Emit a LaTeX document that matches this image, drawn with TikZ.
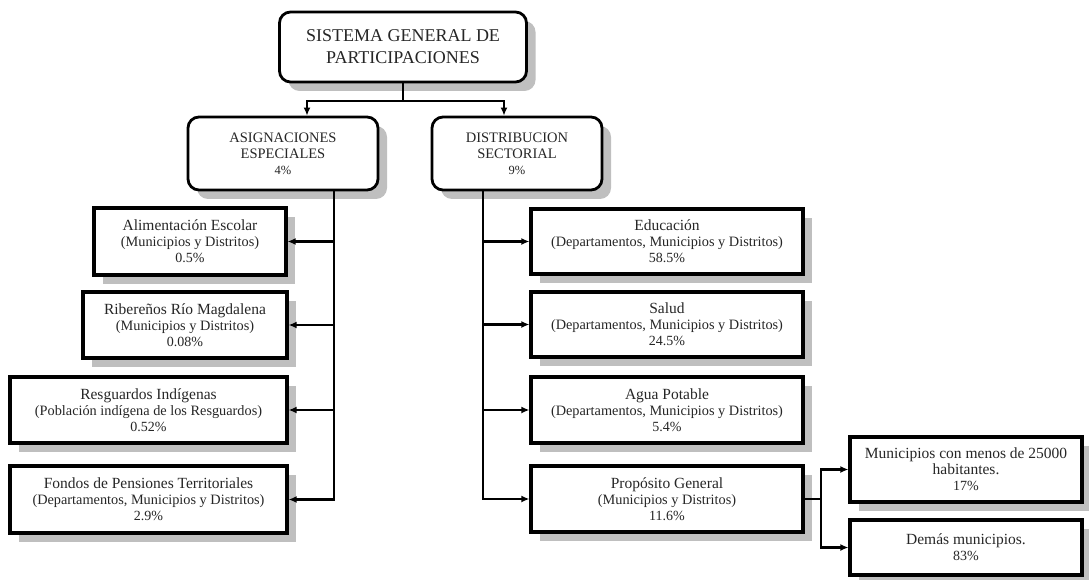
\documentclass[tikz,border=0pt]{standalone}
\usepackage{fontspec}
\setmainfont{Liberation Serif}
\usepackage{tikz}
\usetikzlibrary{arrows.meta,
	shadows,
	positioning}

\newcommand{\sublinea}[1]{{\fontsize{14.3}{16}\selectfont #1}}
\newcommand{\pctlinea}[1]{{\fontsize{14}{16}\selectfont #1}}

\begin{document}
\begin{tikzpicture}[x=1pt,y=-1pt,
	caja/.style={draw, line width=3.2pt, fill=white, inner sep=0pt, align=center,
		text=black!85, font=\fontsize{15.5}{16}\selectfont,
		drop shadow={shadow xshift=9pt, shadow yshift=-9pt, fill=black!25, opacity=1}},
	redonda/.style={caja, line width=2.8pt, rounded corners=11pt},
	link/.style={line width=2.2pt},
	flecha/.style={link, -{Latex[length=8pt,width=7pt]}}]
	\useasboundingbox (0,0) rectangle (1089,580);
	% nivel superior
	\node[redonda, minimum width=247, minimum height=70, font=\fontsize{18}{22}\selectfont] (sgp) at (403,47) {SISTEMA GENERAL DE\\PARTICIPACIONES};
	\node[redonda, minimum width=190, minimum height=73, font=\fontsize{14.5}{16}\selectfont] (asig) at (283,153.5) {ASIGNACIONES\\ESPECIALES\\{\fontsize{12.5}{15}\selectfont 4\%}};
	\node[redonda, minimum width=170, minimum height=73, font=\fontsize{14.5}{16}\selectfont] (dist) at (517,153.5) {DISTRIBUCION\\SECTORIAL\\{\fontsize{12.5}{15}\selectfont 9\%}};
	% asignaciones especiales
	\node[caja, minimum width=192, minimum height=67] (alim) at (190,241.5) {Alimentación Escolar\\\sublinea{(Municipios y Distritos)}\\\pctlinea{0.5\%}};
	\node[caja, minimum width=204, minimum height=66] (ribe) at (185,325) {Ribereños Río Magdalena\\\sublinea{(Municipios y Distritos)}\\\pctlinea{0.08\%}};
	\node[caja, minimum width=277, minimum height=66] (resg) at (148.5,410) {Resguardos Indígenas\\\sublinea{(Población indígena de los Resguardos)}\\\pctlinea{0.52\%}};
	\node[caja, minimum width=277, minimum height=67] (fond) at (148.5,499.5) {Fondos de Pensiones Territoriales\\\sublinea{(Departamentos, Municipios y Distritos)}\\\pctlinea{2.9\%}};
	% distribucion sectorial
	\node[caja, minimum width=272, minimum height=65] (educ) at (667,241.5) {Educación\\\sublinea{(Departamentos, Municipios y Distritos)}\\\pctlinea{58.5\%}};
	\node[caja, minimum width=272, minimum height=65] (salu) at (667,324.5) {Salud\\\sublinea{(Departamentos, Municipios y Distritos)}\\\pctlinea{24.5\%}};
	\node[caja, minimum width=272, minimum height=66] (agua) at (667,410) {Agua Potable\\\sublinea{(Departamentos, Municipios y Distritos)}\\\pctlinea{5.4\%}};
	\node[caja, minimum width=272, minimum height=66] (prop) at (667,499) {Propósito General\\\sublinea{(Municipios y Distritos)}\\\pctlinea{11.6\%}};
	% proposito general
	\node[caja, minimum width=232, minimum height=65] (muni) at (966,469.5) {Municipios con menos de 25000\\habitantes.\\\pctlinea{17\%}};
	\node[caja, minimum width=232, minimum height=55] (dema) at (966,547.5) {Demás municipios.\\\pctlinea{83\%}};
	% conectores
	\coordinate (T) at (403,101);
	\draw[link] (sgp.south) -- (T);
	\draw[flecha] (T) -| ([xshift=24pt]asig.north);
	\draw[flecha] (T) -| ([xshift=-13pt]dist.north);
	\coordinate (L) at ([xshift=51pt]asig.south);
	\draw[flecha] (L) |- (fond.east);
	\foreach \n in {alim,ribe,resg}
		\draw[flecha] (L |- \n.east) -- (\n.east);
	\coordinate (R) at ([xshift=-34pt]dist.south);
	\draw[flecha] (R) |- (prop.west);
	\foreach \n in {educ,salu,agua}
		\draw[flecha] (R |- \n.west) -- (\n.west);
	\draw[link] (prop.east) -- ++(16,0) coordinate (P);
	\draw[flecha] (P) |- (muni.west);
	\draw[flecha] (P) |- (dema.west);
\end{tikzpicture}
\end{document}
